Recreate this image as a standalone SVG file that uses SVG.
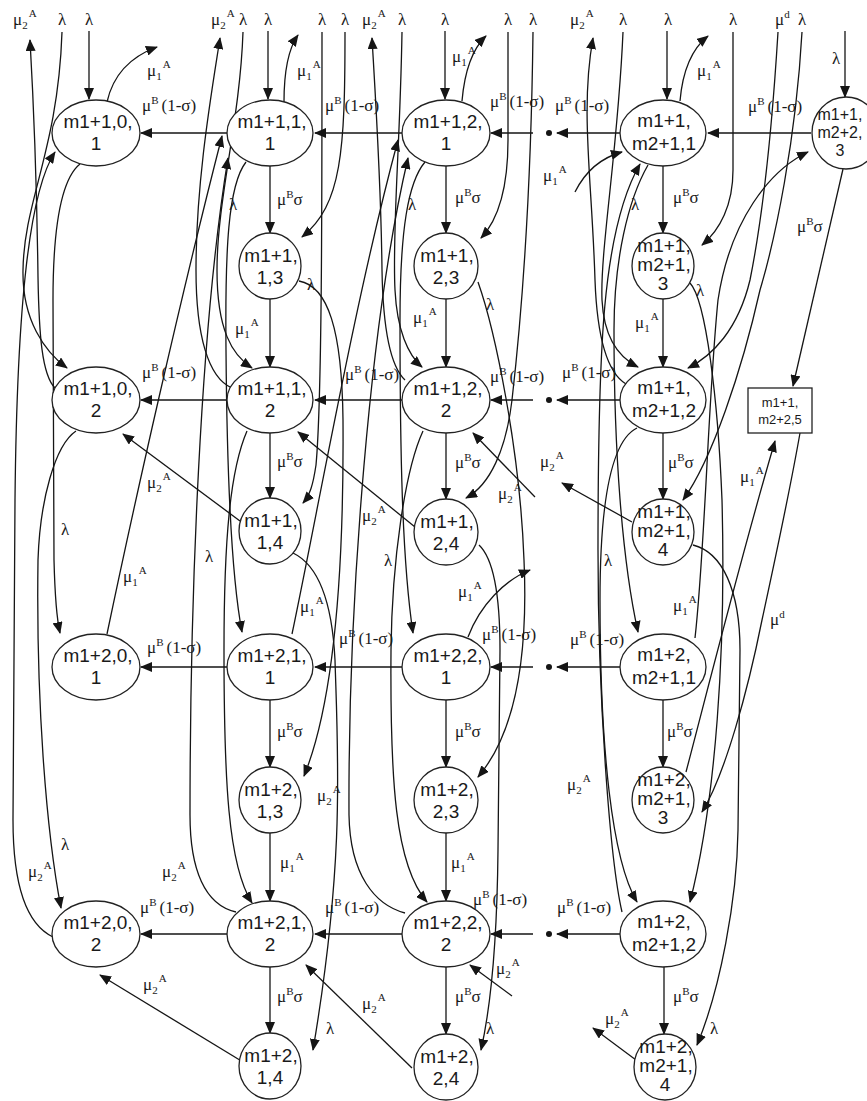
<svg xmlns="http://www.w3.org/2000/svg" width="867" height="1101" viewBox="0 0 867 1101">
<defs>
<marker id="a" viewBox="0 0 12 10" refX="11" refY="5" markerWidth="12" markerHeight="10" markerUnits="userSpaceOnUse" orient="auto"><path d="M0,0 L12,5 L0,10 z" fill="#151515"/></marker>
<style>
.nd{fill:#fff;stroke:#222;stroke-width:1.3}
.n{font-family:"Liberation Sans",Arial,sans-serif;font-size:19px;text-anchor:middle;fill:#1a1a1a}
.ns{font-size:16px}
.nr{font-size:13px}
.l{font-family:"Liberation Serif","Times New Roman",serif;font-size:17px;fill:#1a1a1a}
.c{text-anchor:middle}
.s{font-size:11px}
#conn path{fill:none;stroke:#151515;stroke-width:1.3;marker-end:url(#a)}
</style>
</defs>
<rect width="867" height="1101" fill="#fff"/>

<g id="conn">
<!-- horizontal mu^B(1-sigma) -->
<path d="M228,133 H141"/><path d="M402,133 H315"/><path d="M533,133 H491"/><path d="M620,133 H557"/><path d="M811,133 H708"/>
<path d="M228,400 H141"/><path d="M402,400 H315"/><path d="M533,400 H491"/><path d="M620,400 H557"/>
<path d="M228,667 H141"/><path d="M402,667 H315"/><path d="M533,667 H491"/><path d="M620,667 H557"/>
<path d="M228,934 H141"/><path d="M402,934 H315"/><path d="M533,934 H491"/><path d="M620,934 H557"/>
<!-- vertical -->
<path d="M270,166 V233"/><path d="M270,299 V367"/><path d="M270,433 V498"/><path d="M270,700 V767"/><path d="M270,833 V901"/><path d="M270,967 V1033"/>
<path d="M446,166 V233"/><path d="M446,299 V367"/><path d="M446,433 V499"/><path d="M446,700 V767"/><path d="M446,833 V901"/><path d="M446,967 V1034"/>
<path d="M663,166 V233"/><path d="M663,299 V367"/><path d="M663,433 V499"/><path d="M663,700 V767"/><path d="M664,967 V1034"/>
<!-- top lambda straight -->
<path d="M89,31 V99"/><path d="M268,31 V99"/><path d="M445,31 V99"/><path d="M667,31 V99"/><path d="M845,31 V97"/>
<!-- mu1A outs -->
<path d="M107,102 Q116,62 157,47"/><path d="M284,102 Q284,55 298,35"/><path d="M462,101 Q466,55 486,36"/><path d="M680,101 Q684,55 708,36"/>
<!-- column 0 -->
<path d="M80,164 C60,180 53,230 53,300 L54,560 C55,600 57,620 60,633"/>
<path d="M62,32 C58,150 24,200 23,270 C22,320 45,352 67,368"/>
<path d="M55,388 C42,375 39,335 38,277 C37,200 34,110 30,40"/>
<path d="M76,431 C55,445 40,500 38,560 C36,700 46,830 61,908"/>
<path d="M53,937 C28,925 13,890 13,820 L15,500 C17,300 30,190 55,152"/>
<!-- column 1 -->
<path d="M107,634 C135,500 180,300 222,136"/>
<path d="M246,162 C228,185 225,250 226,350 C227,480 232,580 242,632"/>
<path d="M247,431 C230,470 224,540 224,650 C224,780 228,865 252,903"/>
<path d="M232,388 C208,378 196,335 196,270 C196,180 212,90 220,38"/>
<path d="M243,32 C240,120 217,200 217,270 C217,330 232,355 252,368"/>
<path d="M236,912 C205,905 190,870 190,815 C190,600 200,330 228,158"/>
<path d="M345,32 C345,150 342,205 302,237"/>
<path d="M322,32 C322,200 322,400 316,465 C313,485 310,495 303,503"/>
<path d="M299,281 C328,286 342,330 343,420 C344,560 335,700 304,776"/>
<path d="M293,553 C318,565 332,600 335,660 C338,760 345,860 313,1050"/>
<path d="M292,634 C320,500 355,300 398,140"/>
<path d="M240,521 L123,434"/>
<path d="M243,1062 L100,975"/>
<!-- column 2 -->
<path d="M405,913 C375,905 350,875 349,815 C348,600 370,320 408,158"/>
<path d="M423,431 C405,470 392,560 391,650 C390,780 395,865 427,902"/>
<path d="M425,162 C408,182 400,230 400,320 C400,450 402,560 413,633"/>
<path d="M405,380 C390,366 383,330 382,270 C381,180 375,90 372,38"/>
<path d="M402,32 C400,150 392,230 395,290 C397,330 408,355 422,367"/>
<path d="M508,32 L508,140 C508,190 498,220 481,238"/>
<path d="M533,32 C531,200 520,330 512,400 C506,450 490,485 466,498"/>
<path d="M478,282 C495,330 520,450 524,560 C528,650 518,730 478,777"/>
<path d="M479,545 C495,560 500,600 500,650 L498,850 C497,950 490,1010 481,1050"/>
<path d="M415,527 L298,432"/>
<path d="M412,1068 L306,965"/>
<path d="M468,637 C480,605 505,580 530,570"/>
<path d="M535,497 L473,433"/>
<path d="M512,996 L470,965"/>
<!-- column 3 -->
<path d="M575,192 C585,172 600,158 622,152"/>
<path d="M622,912 C610,860 598,700 598,550 C598,350 602,230 640,164"/>
<path d="M648,165 C628,200 614,260 614,330 C614,450 622,560 638,632"/>
<path d="M623,32 C618,150 600,250 602,300 C604,340 620,358 638,367"/>
<path d="M626,384 C606,372 597,335 595,280 C592,180 580,110 593,38"/>
<path d="M733,32 L733,170 C733,205 720,230 702,245"/>
<path d="M778,32 C772,130 762,220 750,280 C738,330 712,356 688,368"/>
<path d="M802,32 C796,140 775,240 760,290 C742,370 712,460 683,500"/>
<path d="M637,428 C612,440 600,500 600,600 C600,750 612,860 637,902"/>
<path d="M690,283 C706,300 718,400 722,500 C726,650 716,800 690,902"/>
<path d="M693,545 C722,552 740,590 740,650 L738,830 C737,900 720,990 697,1045"/>
<path d="M695,638 C705,550 708,400 718,300 C730,220 770,170 808,152"/>
<path d="M686,772 C705,700 740,560 775,441"/>
<path d="M800,433 C790,490 775,560 762,620 C748,690 725,775 702,812"/>
<path d="M843,169 L793,386"/>
<path d="M632,522 L562,483"/>
<path d="M636,1060 L593,1028"/>
</g>

<g id="dots" fill="#151515">
<circle cx="549" cy="133" r="3"/><circle cx="549" cy="400" r="3"/><circle cx="549" cy="667" r="3"/><circle cx="549" cy="934" r="3"/>
</g>

<!-- nodes column 0 -->
<g id="n_1_0_1"><ellipse class="nd" cx="96" cy="133" rx="44" ry="33"/><text class="n"><tspan x="98" y="128">m1+1,0,</tspan><tspan x="96" y="150">1</tspan></text></g>
<g id="n_1_0_2"><ellipse class="nd" cx="96" cy="400" rx="44" ry="33"/><text class="n"><tspan x="98" y="395">m1+1,0,</tspan><tspan x="96" y="417">2</tspan></text></g>
<g id="n_2_0_1"><ellipse class="nd" cx="96" cy="667" rx="44" ry="33"/><text class="n"><tspan x="98" y="662">m1+2,0,</tspan><tspan x="96" y="684">1</tspan></text></g>
<g id="n_2_0_2"><ellipse class="nd" cx="96" cy="934" rx="44" ry="33"/><text class="n"><tspan x="98" y="929">m1+2,0,</tspan><tspan x="96" y="951">2</tspan></text></g>
<!-- column 1 -->
<g id="n_1_1_1"><ellipse class="nd" cx="270" cy="133" rx="43" ry="33"/><text class="n"><tspan x="272" y="128">m1+1,1,</tspan><tspan x="270" y="150">1</tspan></text></g>
<g id="n_1_1_3"><ellipse class="nd" cx="270" cy="266" rx="31" ry="33"/><text class="n"><tspan x="271" y="262">m1+1,</tspan><tspan x="270" y="284">1,3</tspan></text></g>
<g id="n_1_1_2"><ellipse class="nd" cx="270" cy="400" rx="43" ry="33"/><text class="n"><tspan x="272" y="395">m1+1,1,</tspan><tspan x="270" y="417">2</tspan></text></g>
<g id="n_1_1_4"><ellipse class="nd" cx="270" cy="531" rx="31" ry="33"/><text class="n"><tspan x="271" y="527">m1+1,</tspan><tspan x="270" y="549">1,4</tspan></text></g>
<g id="n_2_1_1"><ellipse class="nd" cx="270" cy="667" rx="43" ry="33"/><text class="n"><tspan x="272" y="662">m1+2,1,</tspan><tspan x="270" y="684">1</tspan></text></g>
<g id="n_2_1_3"><ellipse class="nd" cx="270" cy="800" rx="31" ry="33"/><text class="n"><tspan x="271" y="796">m1+2,</tspan><tspan x="270" y="818">1,3</tspan></text></g>
<g id="n_2_1_2"><ellipse class="nd" cx="270" cy="934" rx="43" ry="33"/><text class="n"><tspan x="272" y="929">m1+2,1,</tspan><tspan x="270" y="951">2</tspan></text></g>
<g id="n_2_1_4"><ellipse class="nd" cx="270" cy="1066" rx="31" ry="33"/><text class="n"><tspan x="271" y="1062">m1+2,</tspan><tspan x="270" y="1084">1,4</tspan></text></g>
<!-- column 2 -->
<g id="n_1_2_1"><ellipse class="nd" cx="446" cy="133" rx="44" ry="33"/><text class="n"><tspan x="448" y="128">m1+1,2,</tspan><tspan x="446" y="150">1</tspan></text></g>
<g id="n_1_2_3"><ellipse class="nd" cx="446" cy="266" rx="32" ry="33"/><text class="n"><tspan x="447" y="262">m1+1,</tspan><tspan x="446" y="284">2,3</tspan></text></g>
<g id="n_1_2_2"><ellipse class="nd" cx="446" cy="400" rx="44" ry="33"/><text class="n"><tspan x="448" y="395">m1+1,2,</tspan><tspan x="446" y="417">2</tspan></text></g>
<g id="n_1_2_4"><ellipse class="nd" cx="446" cy="532" rx="32" ry="33"/><text class="n"><tspan x="447" y="528">m1+1,</tspan><tspan x="446" y="550">2,4</tspan></text></g>
<g id="n_2_2_1"><ellipse class="nd" cx="446" cy="667" rx="44" ry="33"/><text class="n"><tspan x="448" y="662">m1+2,2,</tspan><tspan x="446" y="684">1</tspan></text></g>
<g id="n_2_2_3"><ellipse class="nd" cx="446" cy="800" rx="32" ry="33"/><text class="n"><tspan x="447" y="796">m1+2,</tspan><tspan x="446" y="818">2,3</tspan></text></g>
<g id="n_2_2_2"><ellipse class="nd" cx="446" cy="934" rx="44" ry="33"/><text class="n"><tspan x="448" y="929">m1+2,2,</tspan><tspan x="446" y="951">2</tspan></text></g>
<g id="n_2_2_4"><ellipse class="nd" cx="446" cy="1067" rx="32" ry="33"/><text class="n"><tspan x="447" y="1063">m1+2,</tspan><tspan x="446" y="1085">2,4</tspan></text></g>
<!-- column 3 -->
<g id="n_1_m_1"><ellipse class="nd" cx="663" cy="133" rx="43" ry="33"/><text class="n"><tspan x="664" y="127">m1+1,</tspan><tspan x="664" y="150">m2+1,1</tspan></text></g>
<g id="n_1_m_3"><ellipse class="nd" cx="663" cy="266" rx="31" ry="33"/><text class="n"><tspan x="664" y="252">m1+1,</tspan><tspan x="664" y="271">m2+1,</tspan><tspan x="663" y="290">3</tspan></text></g>
<g id="n_1_m_2"><ellipse class="nd" cx="663" cy="400" rx="43" ry="33"/><text class="n"><tspan x="664" y="394">m1+1,</tspan><tspan x="664" y="417">m2+1,2</tspan></text></g>
<g id="n_1_m_4"><ellipse class="nd" cx="663" cy="532" rx="31" ry="33"/><text class="n"><tspan x="664" y="518">m1+1,</tspan><tspan x="664" y="537">m2+1,</tspan><tspan x="663" y="556">4</tspan></text></g>
<g id="n_2_m_1"><ellipse class="nd" cx="663" cy="667" rx="43" ry="33"/><text class="n"><tspan x="664" y="661">m1+2,</tspan><tspan x="664" y="684">m2+1,1</tspan></text></g>
<g id="n_2_m_3"><ellipse class="nd" cx="663" cy="800" rx="31" ry="33"/><text class="n"><tspan x="664" y="786">m1+2,</tspan><tspan x="664" y="805">m2+1,</tspan><tspan x="663" y="824">3</tspan></text></g>
<g id="n_2_m_2"><ellipse class="nd" cx="663" cy="934" rx="43" ry="33"/><text class="n"><tspan x="664" y="928">m1+2,</tspan><tspan x="664" y="951">m2+1,2</tspan></text></g>
<g id="n_2_m_4"><ellipse class="nd" cx="665" cy="1067" rx="31" ry="33"/><text class="n"><tspan x="666" y="1053">m1+2,</tspan><tspan x="666" y="1072">m2+1,</tspan><tspan x="665" y="1091">4</tspan></text></g>
<!-- column 4 -->
<g id="n_1_m2_3"><ellipse class="nd" cx="846" cy="133" rx="34" ry="36"/><text class="n ns"><tspan x="840" y="120">m1+1,</tspan><tspan x="840" y="138">m2+2,</tspan><tspan x="840" y="156">3</tspan></text></g>
<g id="n_1_m2_5"><rect class="nd" x="748" y="388" width="64" height="45"/><text class="n nr"><tspan x="780" y="407">m1+1,</tspan><tspan x="780" y="424">m2+2,5</tspan></text></g>

<g id="labels">
<!-- top row -->
<text class="l" x="13" y="25">μ<tspan class="s" dy="4">2</tspan><tspan class="s" dy="-12" dx="1">A</tspan></text>
<text class="l c" x="62" y="25">λ</text><text class="l c" x="89" y="25">λ</text>
<text class="l" x="211" y="25">μ<tspan class="s" dy="4">2</tspan><tspan class="s" dy="-12" dx="1">A</tspan></text>
<text class="l c" x="243" y="25">λ</text><text class="l c" x="268" y="25">λ</text>
<text class="l c" x="322" y="25">λ</text><text class="l c" x="345" y="25">λ</text>
<text class="l" x="362" y="25">μ<tspan class="s" dy="4">2</tspan><tspan class="s" dy="-12" dx="1">A</tspan></text>
<text class="l c" x="402" y="25">λ</text><text class="l c" x="445" y="25">λ</text>
<text class="l c" x="508" y="25">λ</text><text class="l c" x="533" y="25">λ</text>
<text class="l" x="570" y="25">μ<tspan class="s" dy="4">2</tspan><tspan class="s" dy="-12" dx="1">A</tspan></text>
<text class="l c" x="623" y="25">λ</text><text class="l c" x="668" y="25">λ</text>
<text class="l c" x="733" y="25">λ</text>
<text class="l" x="775" y="25">μ<tspan class="s" dy="-7">d</tspan></text>
<text class="l c" x="802" y="25">λ</text>
<text class="l c" x="836" y="64">λ</text>
<!-- mu^B(1-sigma) -->
<text class="l" x="142" y="111">μ<tspan class="s" dy="-7">B</tspan><tspan dy="7" dx="3">(1-σ)</tspan></text>
<text class="l" x="325" y="111">μ<tspan class="s" dy="-7">B</tspan><tspan dy="7" dx="3">(1-σ)</tspan></text>
<text class="l" x="490" y="107">μ<tspan class="s" dy="-7">B</tspan><tspan dy="7" dx="3">(1-σ)</tspan></text>
<text class="l" x="555" y="111">μ<tspan class="s" dy="-7">B</tspan><tspan dy="7" dx="3">(1-σ)</tspan></text>
<text class="l" x="748" y="112">μ<tspan class="s" dy="-7">B</tspan><tspan dy="7" dx="3">(1-σ)</tspan></text>
<text class="l" x="142" y="378">μ<tspan class="s" dy="-7">B</tspan><tspan dy="7" dx="3">(1-σ)</tspan></text>
<text class="l" x="345" y="380">μ<tspan class="s" dy="-7">B</tspan><tspan dy="7" dx="3">(1-σ)</tspan></text>
<text class="l" x="490" y="382">μ<tspan class="s" dy="-7">B</tspan><tspan dy="7" dx="3">(1-σ)</tspan></text>
<text class="l" x="562" y="378">μ<tspan class="s" dy="-7">B</tspan><tspan dy="7" dx="3">(1-σ)</tspan></text>
<text class="l" x="147" y="653">μ<tspan class="s" dy="-7">B</tspan><tspan dy="7" dx="3">(1-σ)</tspan></text>
<text class="l" x="339" y="644">μ<tspan class="s" dy="-7">B</tspan><tspan dy="7" dx="3">(1-σ)</tspan></text>
<text class="l" x="482" y="640">μ<tspan class="s" dy="-7">B</tspan><tspan dy="7" dx="3">(1-σ)</tspan></text>
<text class="l" x="570" y="645">μ<tspan class="s" dy="-7">B</tspan><tspan dy="7" dx="3">(1-σ)</tspan></text>
<text class="l" x="140" y="913">μ<tspan class="s" dy="-7">B</tspan><tspan dy="7" dx="3">(1-σ)</tspan></text>
<text class="l" x="325" y="913">μ<tspan class="s" dy="-7">B</tspan><tspan dy="7" dx="3">(1-σ)</tspan></text>
<text class="l" x="473" y="905">μ<tspan class="s" dy="-7">B</tspan><tspan dy="7" dx="3">(1-σ)</tspan></text>
<text class="l" x="557" y="913">μ<tspan class="s" dy="-7">B</tspan><tspan dy="7" dx="3">(1-σ)</tspan></text>
<!-- mu^B sigma -->
<text class="l" x="277" y="205">μ<tspan class="s" dy="-7">B</tspan><tspan dy="7">σ</tspan></text>
<text class="l" x="455" y="203">μ<tspan class="s" dy="-7">B</tspan><tspan dy="7">σ</tspan></text>
<text class="l" x="673" y="203">μ<tspan class="s" dy="-7">B</tspan><tspan dy="7">σ</tspan></text>
<text class="l" x="277" y="467">μ<tspan class="s" dy="-7">B</tspan><tspan dy="7">σ</tspan></text>
<text class="l" x="455" y="468">μ<tspan class="s" dy="-7">B</tspan><tspan dy="7">σ</tspan></text>
<text class="l" x="668" y="468">μ<tspan class="s" dy="-7">B</tspan><tspan dy="7">σ</tspan></text>
<text class="l" x="277" y="737">μ<tspan class="s" dy="-7">B</tspan><tspan dy="7">σ</tspan></text>
<text class="l" x="455" y="737">μ<tspan class="s" dy="-7">B</tspan><tspan dy="7">σ</tspan></text>
<text class="l" x="667" y="737">μ<tspan class="s" dy="-7">B</tspan><tspan dy="7">σ</tspan></text>
<text class="l" x="277" y="1002">μ<tspan class="s" dy="-7">B</tspan><tspan dy="7">σ</tspan></text>
<text class="l" x="455" y="1002">μ<tspan class="s" dy="-7">B</tspan><tspan dy="7">σ</tspan></text>
<text class="l" x="673" y="1002">μ<tspan class="s" dy="-7">B</tspan><tspan dy="7">σ</tspan></text>
<text class="l" x="797" y="232">μ<tspan class="s" dy="-7">B</tspan><tspan dy="7">σ</tspan></text>
<!-- mu1A -->
<text class="l" x="147" y="76">μ<tspan class="s" dy="4">1</tspan><tspan class="s" dy="-12" dx="1">A</tspan></text>
<text class="l" x="297" y="76">μ<tspan class="s" dy="4">1</tspan><tspan class="s" dy="-12" dx="1">A</tspan></text>
<text class="l" x="452" y="62">μ<tspan class="s" dy="4">1</tspan><tspan class="s" dy="-12" dx="1">A</tspan></text>
<text class="l" x="697" y="76">μ<tspan class="s" dy="4">1</tspan><tspan class="s" dy="-12" dx="1">A</tspan></text>
<text class="l" x="543" y="181">μ<tspan class="s" dy="4">1</tspan><tspan class="s" dy="-12" dx="1">A</tspan></text>
<text class="l" x="235" y="334">μ<tspan class="s" dy="4">1</tspan><tspan class="s" dy="-12" dx="1">A</tspan></text>
<text class="l" x="413" y="323">μ<tspan class="s" dy="4">1</tspan><tspan class="s" dy="-12" dx="1">A</tspan></text>
<text class="l" x="635" y="328">μ<tspan class="s" dy="4">1</tspan><tspan class="s" dy="-12" dx="1">A</tspan></text>
<text class="l" x="123" y="582">μ<tspan class="s" dy="4">1</tspan><tspan class="s" dy="-12" dx="1">A</tspan></text>
<text class="l" x="300" y="612">μ<tspan class="s" dy="4">1</tspan><tspan class="s" dy="-12" dx="1">A</tspan></text>
<text class="l" x="458" y="597">μ<tspan class="s" dy="4">1</tspan><tspan class="s" dy="-12" dx="1">A</tspan></text>
<text class="l" x="673" y="611">μ<tspan class="s" dy="4">1</tspan><tspan class="s" dy="-12" dx="1">A</tspan></text>
<text class="l" x="740" y="482">μ<tspan class="s" dy="4">1</tspan><tspan class="s" dy="-12" dx="1">A</tspan></text>
<text class="l" x="280" y="868">μ<tspan class="s" dy="4">1</tspan><tspan class="s" dy="-12" dx="1">A</tspan></text>
<text class="l" x="451" y="868">μ<tspan class="s" dy="4">1</tspan><tspan class="s" dy="-12" dx="1">A</tspan></text>
<!-- mu2A -->
<text class="l" x="147" y="488">μ<tspan class="s" dy="4">2</tspan><tspan class="s" dy="-12" dx="1">A</tspan></text>
<text class="l" x="362" y="521">μ<tspan class="s" dy="4">2</tspan><tspan class="s" dy="-12" dx="1">A</tspan></text>
<text class="l" x="498" y="499">μ<tspan class="s" dy="4">2</tspan><tspan class="s" dy="-12" dx="1">A</tspan></text>
<text class="l" x="540" y="467">μ<tspan class="s" dy="4">2</tspan><tspan class="s" dy="-12" dx="1">A</tspan></text>
<text class="l" x="28" y="877">μ<tspan class="s" dy="4">2</tspan><tspan class="s" dy="-12" dx="1">A</tspan></text>
<text class="l" x="162" y="877">μ<tspan class="s" dy="4">2</tspan><tspan class="s" dy="-12" dx="1">A</tspan></text>
<text class="l" x="317" y="801">μ<tspan class="s" dy="4">2</tspan><tspan class="s" dy="-12" dx="1">A</tspan></text>
<text class="l" x="567" y="790">μ<tspan class="s" dy="4">2</tspan><tspan class="s" dy="-12" dx="1">A</tspan></text>
<text class="l" x="143" y="990">μ<tspan class="s" dy="4">2</tspan><tspan class="s" dy="-12" dx="1">A</tspan></text>
<text class="l" x="362" y="1009">μ<tspan class="s" dy="4">2</tspan><tspan class="s" dy="-12" dx="1">A</tspan></text>
<text class="l" x="496" y="974">μ<tspan class="s" dy="4">2</tspan><tspan class="s" dy="-12" dx="1">A</tspan></text>
<text class="l" x="605" y="1024">μ<tspan class="s" dy="4">2</tspan><tspan class="s" dy="-12" dx="1">A</tspan></text>
<!-- mu d -->
<text class="l" x="770" y="625">μ<tspan class="s" dy="-7">d</tspan></text>
<!-- lambda -->
<text class="l c" x="65" y="535">λ</text>
<text class="l c" x="65" y="850">λ</text>
<text class="l c" x="233" y="210">λ</text>
<text class="l c" x="311" y="290">λ</text>
<text class="l c" x="209" y="562">λ</text>
<text class="l c" x="412" y="210">λ</text>
<text class="l c" x="490" y="310">λ</text>
<text class="l c" x="388" y="566">λ</text>
<text class="l c" x="330" y="1034">λ</text>
<text class="l c" x="490" y="1034">λ</text>
<text class="l c" x="635" y="210">λ</text>
<text class="l c" x="700" y="296">λ</text>
<text class="l c" x="608" y="566">λ</text>
<text class="l c" x="714" y="1034">λ</text>
</g>
</svg>
